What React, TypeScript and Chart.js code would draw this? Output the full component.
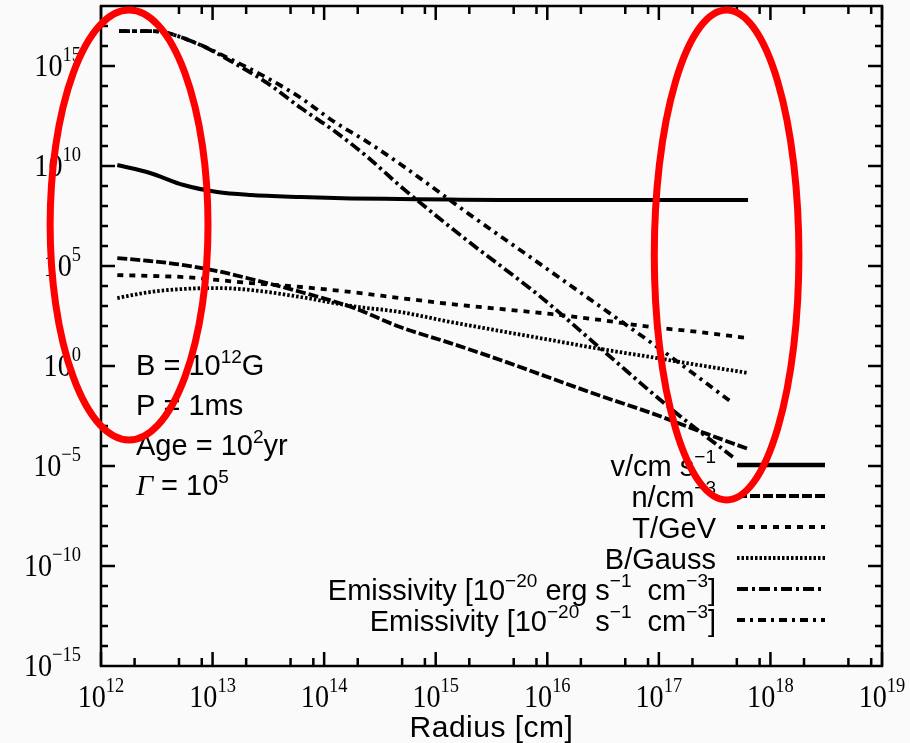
import React, { useEffect, useRef } from 'react';
import { Chart, registerables } from 'chart.js';

Chart.register(...registerables);

// ---------- data ----------
// shared radius grid (cm) for velocity, density, temperature, field
const radius = [1.4e12, 2.75e12, 5.5e12, 1.1e13, 2.2e13, 6.2e13, 1.75e14, 4.8e14, 1.35e15, 3.8e15, 1.07e16, 3.0e16, 8.5e16, 2.3e17, 6.3e17];
const velocity = [1.12e10, 4.47e9, 1.12e9, 5.0e8, 3.55e8, 2.82e8, 2.4e8, 2.24e8, 2.09e8, 2.0e8, 2.0e8, 2.0e8, 2.0e8, 2.0e8, 2.0e8];
const density = [2.5e5, 1.78e5, 1.12e5, 5.6e4, 2.24e4, 5.0e3, 890, 89, 14, 2.0, 0.25, 0.032, 4.5e-3, 5.6e-4, 7.1e-5];
const temperature = [3.5e4, 3.2e4, 2.8e4, 2.0e4, 1.4e4, 8.9e3, 5.0e3, 2.5e3, 1.26e3, 710, 400, 200, 89, 50, 25];
const field = [2.5e3, 5.0e3, 7.1e3, 7.9e3, 6.3e3, 2.8e3, 1.0e3, 500, 160, 56, 20, 7.1, 2.8, 1.1, 0.45];

// radius grid (cm) for the two emissivity curves
const radiusEmis = [1.45e12, 2.75e12, 3.9e12, 7.8e12, 1.5e13, 3.1e13, 6.2e13, 1.2e14, 2.45e14, 4.8e14, 1.07e15, 2.05e15, 8.1e15, 3.2e16, 1.29e17, 4.6e17];
const emissivityErg = [5.6e16, 5.6e16, 4.5e16, 1.12e16, 1.6e15, 1.4e14, 7.9e12, 6.3e11, 2.8e10, 1.0e9, 2.5e7, 1.4e6, 4.0e3, 5.6, 7.1e-3, 2.8e-5];
const emissivityNum = [5.6e16, 5.6e16, 4.5e16, 1.12e16, 2.0e15, 2.5e14, 2.5e13, 1.78e12, 1.58e11, 1.26e10, 5.0e8, 3.5e7, 1.6e5, 710, 2.8, 0.014];

// axis tick exponents
const xTickExponents = [12, 13, 14, 15, 16, 17, 18, 19];
const yTickExponents = [-15, -10, -5, 0, 5, 10, 15];
const xMinorMultipliers = [2, 5, 8];

type Seg = { t: string; sup?: boolean; ital?: boolean };

// legend labels (rich text)
const legendLabels: Seg[][] = [
  [{ t: 'v/cm s' }, { t: '−1', sup: true }],
  [{ t: 'n/cm' }, { t: '−3', sup: true }],
  [{ t: 'T/GeV' }],
  [{ t: 'B/Gauss' }],
  [{ t: 'Emissivity [10' }, { t: '−20', sup: true }, { t: ' erg s' }, { t: '−1', sup: true }, { t: '  cm' }, { t: '−3', sup: true }, { t: ']' }],
  [{ t: 'Emissivity [10' }, { t: '−20', sup: true }, { t: '  s' }, { t: '−1', sup: true }, { t: '  cm' }, { t: '−3', sup: true }, { t: ']' }],
];
const seriesNames = ['v/cm s⁻¹', 'n/cm⁻³', 'T/GeV', 'B/Gauss', 'Emissivity [10⁻²⁰ erg s⁻¹ cm⁻³]', 'Emissivity [10⁻²⁰ s⁻¹ cm⁻³]'];
const seriesDashes: number[][] = [[], [10, 3], [6, 6], [2.5, 2], [11, 4, 3, 4], [8, 5, 3, 5]];

// model parameter annotation
const paramLines: Seg[][] = [
  [{ t: 'B = 10' }, { t: '12', sup: true }, { t: 'G' }],
  [{ t: 'P = 1ms' }],
  [{ t: 'Age = 10' }, { t: '2', sup: true }, { t: 'yr' }],
  [{ t: 'Γ', ital: true }, { t: ' = 10' }, { t: '5', sup: true }],
];

// red highlight ellipses, given as bounding boxes in data units
const highlightX = [[3.5e11, 9.1e12], [9.1e16, 1.8e18]];
const highlightY = [[2e-4, 6.3e17], [2e-7, 6.3e17]];

// ---------- drawing helpers ----------
const SANS = '"Liberation Sans", Arial, Helvetica, sans-serif';
const SERIF = '"Liberation Serif", "Times New Roman", serif';

type RichFont = { size: number; supSize: number; rise: number; family: string; hScale?: number };

function segFont(s: Seg, f: RichFont) {
  if (s.ital) return `italic ${f.size + 1}px ${SERIF}`;
  return `${s.sup ? f.supSize : f.size}px ${f.family}`;
}

function drawRich(ctx: CanvasRenderingContext2D, segs: Seg[], x: number, y: number, align: 'left' | 'right' | 'center', f: RichFont) {
  const hs = f.hScale ?? 1;
  let w = 0;
  const widths = segs.map((s) => {
    ctx.font = segFont(s, f);
    const m = ctx.measureText(s.t).width;
    w += m;
    return m;
  });
  const start = align === 'left' ? x : align === 'right' ? x - w * hs : x - (w * hs) / 2;
  ctx.save();
  ctx.translate(start, y);
  ctx.scale(hs, 1);
  ctx.textAlign = 'left';
  ctx.textBaseline = 'alphabetic';
  ctx.fillStyle = '#000';
  let cx = 0;
  segs.forEach((s, i) => {
    ctx.font = segFont(s, f);
    ctx.fillText(s.t, cx, s.sup ? -f.rise : 0);
    cx += widths[i];
  });
  ctx.restore();
}

function expLabel(e: number): Seg[] {
  return [{ t: '10' }, { t: e < 0 ? '−' + Math.abs(e) : String(e), sup: true }];
}

const tickFont: RichFont = { size: 32, supSize: 21, rise: 15, family: SERIF, hScale: 0.88 };
const textFont: RichFont = { size: 29, supSize: 19, rise: 13, family: SANS };

const gnuplotPlugin = {
  id: 'gnuplotFrame',
  beforeDraw(chart: any) {
    const ctx: CanvasRenderingContext2D = chart.ctx;
    ctx.save();
    ctx.fillStyle = '#fafafa';
    ctx.fillRect(0, 0, chart.width, chart.height);
    ctx.restore();
  },
  afterDraw(chart: any) {
    const ctx: CanvasRenderingContext2D = chart.ctx;
    const a = chart.chartArea;
    const xs = chart.scales.x;
    const ys = chart.scales.y;
    ctx.save();
    ctx.strokeStyle = '#000';
    ctx.lineWidth = 2.5;
    ctx.setLineDash([]);
    ctx.strokeRect(a.left, a.top, a.right - a.left, a.bottom - a.top);

    // y ticks, every decade, mirrored
    ctx.lineWidth = 2.5;
    for (let e = Math.round(Math.log10(ys.min)) + 1; e < Math.round(Math.log10(ys.max)); e++) {
      const py = ys.getPixelForValue(Math.pow(10, e));
      const len = e % 5 === 0 ? 14 : 7;
      ctx.beginPath();
      ctx.moveTo(a.left, py);
      ctx.lineTo(a.left + len, py);
      ctx.moveTo(a.right, py);
      ctx.lineTo(a.right - len, py);
      ctx.stroke();
    }
    // x ticks, mirrored
    xTickExponents.forEach((d) => {
      const mults = d === xTickExponents[xTickExponents.length - 1] ? [1] : [1, ...xMinorMultipliers];
      mults.forEach((m) => {
        const px = xs.getPixelForValue(m * Math.pow(10, d));
        const len = m === 1 ? 14 : 8;
        ctx.beginPath();
        ctx.moveTo(px, a.bottom);
        ctx.lineTo(px, a.bottom - len);
        ctx.moveTo(px, a.top);
        ctx.lineTo(px, a.top + len);
        ctx.stroke();
      });
    });

    // tick labels
    yTickExponents.forEach((e) => {
      const py = ys.getPixelForValue(Math.pow(10, e));
      drawRich(ctx, expLabel(e), a.left - 20, py + 10, 'right', tickFont);
    });
    xTickExponents.forEach((d) => {
      const px = xs.getPixelForValue(Math.pow(10, d));
      drawRich(ctx, expLabel(d), px, a.bottom + 41, 'center', tickFont);
    });

    // axis title
    ctx.fillStyle = '#000';
    ctx.font = `30px ${SANS}`;
    ctx.textAlign = 'center';
    ctx.textBaseline = 'alphabetic';
    (ctx as any).letterSpacing = '0.5px';
    ctx.fillText('Radius [cm]', (a.left + a.right) / 2 + 0, a.bottom + 71);
    (ctx as any).letterSpacing = '0px';

    // parameters
    paramLines.forEach((line, i) => {
      drawRich(ctx, line, a.left + 35, a.top + 369 + i * 40, 'left', { ...textFont, rise: 12 });
    });

    // legend
    chart.data.datasets.forEach((ds: any, i: number) => {
      const ly = a.top + 459 + i * 31;
      drawRich(ctx, legendLabels[i], a.left + 615, ly + 11, 'right', textFont);
      ctx.save();
      ctx.strokeStyle = '#000';
      ctx.lineWidth = i === 0 ? 4.5 : 4;
      ctx.lineCap = 'butt';
      ctx.setLineDash(ds.borderDash || []);
      ctx.beginPath();
      ctx.moveTo(a.left + 636, ly);
      ctx.lineTo(a.left + 724, ly);
      ctx.stroke();
      ctx.restore();
    });

    // red highlight ellipses
    ctx.strokeStyle = '#ff0000';
    ctx.lineWidth = 7;
    ctx.setLineDash([]);
    highlightX.forEach((hx, i) => {
      const x0 = xs.getPixelForValue(hx[0]);
      const x1 = xs.getPixelForValue(hx[1]);
      const y0 = ys.getPixelForValue(highlightY[i][1]);
      const y1 = ys.getPixelForValue(highlightY[i][0]);
      ctx.beginPath();
      ctx.ellipse((x0 + x1) / 2, (y0 + y1) / 2, (x1 - x0) / 2, (y1 - y0) / 2, 0, 0, Math.PI * 2);
      ctx.stroke();
    });
    ctx.restore();
  },
};

function pts(xv: number[], yv: number[]) {
  return xv.map((x, i) => ({ x, y: yv[i] }));
}

export default function App() {
  const ref = useRef<HTMLCanvasElement>(null);
  useEffect(() => {
    const values = [velocity, density, temperature, field, emissivityErg, emissivityNum];
    const xsets = [radius, radius, radius, radius, radiusEmis, radiusEmis];
    const chart = new Chart(ref.current as HTMLCanvasElement, {
      type: 'scatter',
      data: {
        datasets: values.map((v, i) => ({
          label: seriesNames[i],
          data: pts(xsets[i], v),
          showLine: true,
          borderColor: '#000',
          backgroundColor: '#000',
          borderWidth: i === 0 ? 4 : 3.8,
          borderDash: seriesDashes[i],
          pointRadius: 0,
          pointHoverRadius: 0,
          fill: false,
          cubicInterpolationMode: 'monotone' as const,
        })),
      },
      options: {
        responsive: false,
        maintainAspectRatio: false,
        animation: false,
        layout: { padding: { left: 101, right: 28, top: 6, bottom: 77 } },
        scales: {
          x: { type: 'logarithmic', min: 1e12, max: 1e19, display: false },
          y: { type: 'logarithmic', min: 1e-15, max: 1e18, display: false },
        },
        plugins: { legend: { display: false }, tooltip: { enabled: false } },
        events: [],
      },
      plugins: [gnuplotPlugin],
    } as any);
    return () => chart.destroy();
  }, []);
  return (
    <div style={{ position: 'fixed', left: 0, top: 0, width: 910, height: 743, background: '#fafafa' }}>
      <canvas ref={ref} width={910} height={743} style={{ display: 'block', width: 910, height: 743 }} />
    </div>
  );
}
